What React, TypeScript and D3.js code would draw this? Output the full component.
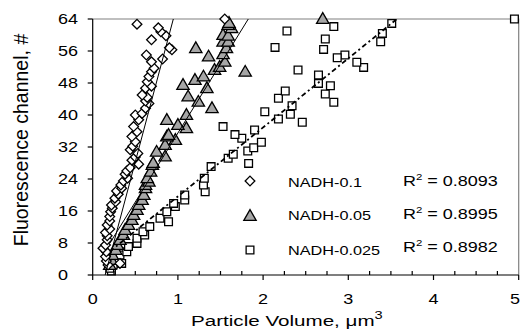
import React, { useEffect, useRef } from 'react';
import * as d3 from 'd3';

// points: [particle volume µm3, fluorescence channel]
const nadh01: [number, number][] = [
  [0.18, 2.5], [0.32, 2.9], [0.16, 3.5], [0.15, 4.6], [0.16, 5.8], [0.12, 6.7], [0.15, 7.5], [0.17, 8.8],
  [0.17, 9.8], [0.15, 10.6], [0.2, 11.5], [0.17, 12.5], [0.2, 13.5], [0.2, 14.6], [0.21, 15.8], [0.23, 16.7],
  [0.22, 17.5], [0.27, 18.3], [0.26, 19.2], [0.3, 20.2], [0.28, 21.0], [0.34, 21.7], [0.33, 22.5], [0.36, 23.5],
  [0.41, 24.2], [0.38, 25.2], [0.4, 26.0], [0.44, 26.8], [0.54, 27.7], [0.46, 28.7], [0.5, 29.5], [0.53, 30.4],
  [0.44, 31.3], [0.47, 32.2], [0.5, 33.3], [0.46, 34.6], [0.52, 35.8], [0.48, 37.1], [0.54, 38.8], [0.5, 40.0],
  [0.58, 40.4], [0.62, 41.7], [0.66, 42.9], [0.62, 43.5], [0.64, 44.4], [0.58, 45.0], [0.62, 46.7], [0.69, 47.2],
  [0.64, 48.3], [0.66, 49.6], [0.69, 50.8], [0.72, 51.7], [0.69, 53.3], [0.82, 54.0], [0.63, 55.0], [0.93, 56.3],
  [0.9, 56.8], [0.69, 58.8], [0.86, 59.8], [0.8, 60.8], [0.77, 61.8], [0.52, 62.7], [1.55, 64],
];
const nadh005: [number, number][] = [
  [0.2, 2.5], [0.22, 3.75], [0.23, 5.0], [0.27, 6.25], [0.29, 7.5], [0.32, 8.75], [0.36, 10.0], [0.38, 11.25],
  [0.42, 12.5], [0.46, 13.75], [0.48, 15.0], [0.52, 16.25], [0.54, 17.5], [0.58, 18.75], [0.6, 20.0], [0.62, 21.7],
  [0.62, 22.5], [0.66, 23.3], [0.64, 24.2], [0.68, 25.8], [0.7, 27.5], [0.71, 28.0], [0.85, 29.6], [0.75, 30.8],
  [0.85, 32.5], [0.97, 33.75], [0.87, 34.6], [0.89, 35.0], [1.1, 36.7], [1.0, 37.5], [0.87, 38.75], [1.1, 40.0],
  [1.4, 41.7], [1.24, 43.3], [1.12, 44.6], [1.34, 46.7], [1.06, 47.5], [1.2, 48.75], [1.3, 49.6], [1.79, 50.8],
  [1.43, 51.25], [1.49, 52.0], [1.55, 53.3], [1.36, 54.6], [1.53, 55.2], [1.21, 56.7], [1.57, 56.7], [1.53, 58.3],
  [1.59, 58.3], [1.53, 60.0], [1.59, 59.8], [1.63, 61.7], [1.59, 62.5], [1.6, 63.0], [2.7, 64],
];
const nadh0025: [number, number][] = [
  [0.22, 1.0], [0.2, 1.7], [0.24, 2.5], [0.34, 2.9], [0.28, 3.75], [0.32, 5.0], [0.4, 5.8], [0.42, 7.1],
  [0.52, 7.9], [0.52, 9.2], [0.61, 10.0], [0.59, 10.8], [0.67, 12.1], [0.89, 13.3], [0.79, 14.2], [0.87, 15.8],
  [0.97, 17.1], [0.95, 17.9], [1.08, 18.75], [1.08, 20.0], [1.32, 20.8], [1.3, 22.5], [1.31, 24.2], [1.39, 27.1],
  [1.59, 29.2], [1.65, 30.2], [1.82, 31.0], [1.89, 31.8], [1.83, 27.9], [1.98, 33.2], [1.75, 34.2], [1.67, 35.1],
  [1.53, 37.1], [1.9, 36.25], [2.02, 40.8], [2.18, 39.0], [2.32, 40.2], [2.46, 38.2], [2.34, 42.3], [2.18, 44.2],
  [2.26, 46.0], [2.83, 43.2], [2.73, 45.25], [2.79, 47.3], [2.65, 47.9], [2.65, 50.0], [2.41, 51.25], [3.18, 51.9],
  [3.1, 53.2], [2.96, 55.0], [2.87, 54.3], [2.71, 56.4], [2.73, 59.0], [2.14, 56.9], [2.28, 61.0], [2.83, 62.1],
  [3.38, 58.3], [3.4, 60.4], [3.51, 62.9], [4.95, 64],
];

const seriesNames = ['NADH-0.1', 'NADH-0.05', 'NADH-0.025'];
const rSquared = ['0.8093', '0.8995', '0.8982'];
// linear trendlines as drawn: [slope, intercept]
const trendCoef: [number, number][] = [[80, -11.7], [34.5, 1.0], [17.25, 2.4]];

const xTicks = [0, 1, 2, 3, 4, 5];
const yTicks = [0, 8, 16, 24, 32, 40, 48, 56, 64];

const W = 522, H = 331;
const left = 92.7, right = 518.7, top = 19, bottom = 275;

const App: React.FC = () => {
  const svgRef = useRef<SVGSVGElement>(null);

  useEffect(() => {
    const svg = d3.select(svgRef.current!);
    svg.selectAll('*').remove();
    const font = 'Liberation Sans, Arial, sans-serif';

    const x = d3.scaleLinear().domain([0, 5]).range([left, right]);
    const y = d3.scaleLinear().domain([0, 64]).range([bottom, top]);

    svg.append('defs').append('clipPath').attr('id', 'plot')
      .append('rect').attr('x', left).attr('y', top).attr('width', right - left).attr('height', bottom - top);

    // frame (top/right gray)
    svg.append('path')
      .attr('d', `M${left},${top}H${right}V${bottom}`)
      .attr('fill', 'none').attr('stroke', '#808080').attr('stroke-width', 1.2);

    const diamond = d3.symbol().type(d3.symbolDiamond2).size(60);
    const triangle = d3.symbol().type(d3.symbolTriangle).size(66);
    const square = d3.symbol().type(d3.symbolSquare).size(60);

    const drawPts = (data: [number, number][], shape: any, fill: string, dy = 0) => {
      svg.append('g').selectAll('path').data(data).join('path')
        .attr('d', shape)
        .attr('transform', d => `translate(${x(d[0])},${y(d[1]) + dy})`)
        .attr('fill', fill).attr('stroke', '#000').attr('stroke-width', 1.3);
    };
    drawPts(nadh0025, square(), '#fff');
    drawPts(nadh005, triangle(), '#a6a6a6', 0.8);
    drawPts(nadh01, diamond(), '#fff');

    // trendlines
    const series = [nadh01, nadh005, nadh0025];
    const tg = svg.append('g').attr('clip-path', 'url(#plot)');
    const line = d3.line<[number, number]>().x(d => x(d[0])).y(d => y(d[1]));
    series.forEach((s, i) => {
      const [m, b] = trendCoef[i];
      const x0 = d3.min(s, d => d[0])!;
      const x1 = Math.min(d3.max(s, d => d[0])!, (64 - b) / m);
      tg.append('path')
        .attr('d', line([[x0, m * x0 + b], [x1, m * x1 + b]]))
        .attr('fill', 'none').attr('stroke', '#000')
        .attr('stroke-width', i === 2 ? 1.8 : 1)
        .attr('stroke-dasharray', i === 2 ? '5,3,2,3' : null);
    });

    // axes
    const ax = svg.append('g').attr('stroke', '#000').attr('stroke-width', 1.2);
    ax.append('line').attr('x1', left).attr('x2', left).attr('y1', top).attr('y2', bottom);
    ax.append('line').attr('x1', left).attr('x2', right).attr('y1', bottom).attr('y2', bottom);
    yTicks.forEach(t => {
      ax.append('line').attr('x1', left - 5).attr('x2', left).attr('y1', y(t)).attr('y2', y(t));
    });
    xTicks.forEach(t => {
      ax.append('line').attr('x1', x(t)).attr('x2', x(t)).attr('y1', bottom).attr('y2', bottom + 5);
    });
    d3.range(0.25, 5, 0.25).filter(t => t % 1 !== 0).forEach(t => {
      ax.append('line').attr('x1', x(t)).attr('x2', x(t)).attr('y1', bottom - 4).attr('y2', bottom);
    });

    // text in the original is stretched sideways
    const stretched = (g: any, tx: number, ty: number, sx: number, size: number, anchor = 'start') =>
      g.append('text')
        .attr('transform', `translate(${tx},${ty}) scale(${sx},1)`)
        .attr('text-anchor', anchor).attr('font-family', font).attr('font-size', size);

    yTicks.forEach(t => {
      stretched(svg, 58, y(t) + 5, 1.2, 15).text(t);
    });
    xTicks.forEach(t => {
      stretched(svg, Math.min(x(t), W - 7), 304, 1.2, 15, 'middle').text(t);
    });

    svg.append('text')
      .attr('transform', `translate(28,140) rotate(-90)`)
      .attr('text-anchor', 'middle').attr('font-family', font).attr('font-size', 19.5)
      .text('Fluorescence channel, #');

    const xt = stretched(svg, 191, 326, 1.33, 15.5);
    xt.append('tspan').text('Particle Volume, μm');
    xt.append('tspan').attr('dy', -7).attr('font-size', 11).text('3');

    // legend
    const legY = [181, 216, 250];
    const nameBase = [186.5, 220, 255];
    const rBase = [185.5, 218.5, 251.5];
    const legShapes = [diamond(), triangle(), square()];
    const legFill = ['#fff', '#a6a6a6', '#fff'];
    legY.forEach((ly, i) => {
      svg.append('path').attr('d', legShapes[i])
        .attr('transform', `translate(250,${ly + (i === 1 ? 0.8 : 0)})`)
        .attr('fill', legFill[i]).attr('stroke', '#000').attr('stroke-width', 1.3);
      stretched(svg, 288, nameBase[i], 1.27, 12.8).text(seriesNames[i]);
      const r = stretched(svg, 403, rBase[i], 1.2, 15);
      r.append('tspan').text('R');
      r.append('tspan').attr('dy', -6).attr('font-size', 9.5).text('2');
      r.append('tspan').attr('dy', 6).text(` = ${rSquared[i]}`);
    });
  }, []);

  return (
    <svg ref={svgRef} width={W} height={H} style={{ position: 'absolute', left: 0, top: 0, background: '#fff' }} />
  );
};

export default App;
